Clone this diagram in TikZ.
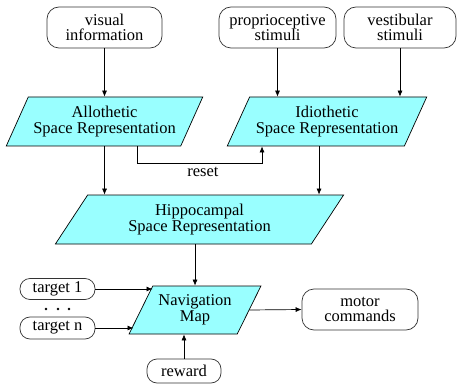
\documentclass[tikz,border=0pt]{standalone}
\usepackage{fontspec}
\setmainfont{Liberation Serif}
\usetikzlibrary{shapes.geometric,arrows.meta}
\definecolor{cyanfill}{HTML}{99FFFF}
\definecolor{edgegray}{HTML}{333333}
\begin{document}
\begin{tikzpicture}[x=1pt,y=-1pt,
  font=\fontsize{16.5}{15.5}\selectfont,
  rbox/.style={draw=edgegray,line width=0.7pt,rounded corners=12pt,align=center,inner sep=0pt},
  sbox/.style={draw=edgegray,line width=0.7pt,rounded corners=10pt,align=center,inner sep=0pt},
  para/.style={trapezium,trapezium left angle=56,trapezium right angle=124,trapezium stretches=true,
    draw=black,line width=0.7pt,fill=cyanfill,align=center,inner sep=0pt},
  arr/.style={draw=black,line width=0.7pt,-{Latex[length=6pt,width=5pt]}}]
\useasboundingbox (0,0) rectangle (458,385);
% source boxes
\node[rbox,minimum width=115pt,minimum height=41pt] (vis) at (104.5,27.5) {visual\\information};
\node[rbox,minimum width=117pt,minimum height=41pt] (prop) at (277.5,27.5) {proprioceptive\\stimuli};
\node[rbox,minimum width=112pt,minimum height=41pt] (vest) at (400,27.5) {vestibular\\stimuli};
% representations
\node[para,minimum width=197pt,minimum height=49pt] (allo) at (104.5,121.5) {Allothetic\\Space Representation};
\node[para,minimum width=200pt,minimum height=49pt] (idio) at (327,121.5) {Idiothetic\\Space Representation};
\node[para,minimum width=289pt,minimum height=49pt] (hippo) at (199.5,219.5) {Hippocampal\\Space Representation};
\node[para,trapezium left angle=55.5,trapezium right angle=124.5,minimum width=132pt,minimum height=48pt] (nav) at (195,310) {Navigation\\Map};
% small boxes
\node[sbox,minimum width=75pt,minimum height=21pt] (t1) at (57.5,289) {target 1};
\node[sbox,minimum width=75pt,minimum height=22pt] (tn) at (57.5,328) {target n};
\node[sbox,minimum width=74pt,minimum height=24pt] (rew) at (184,371) {reward};
\node[rbox,minimum width=116pt,minimum height=41pt] (mot) at (360,309.5) {motor\\commands};
\foreach \dx in {46,58,69} \fill (\dx,309) circle (1.3pt);
% connectors
\draw[arr] (vis.south) -- (vis.south |- allo.north);
\draw[arr] (prop.south) -- (prop.south |- idio.north);
\draw[arr] (vest.south) -- (vest.south |- idio.north);
\draw[arr] ([xshift=32.5pt]allo.south) -- ++(0,17) -| ([xshift=-65pt]idio.south);
\node at (203,172) {reset};
\draw[arr] (allo.south) -- (allo.south |- hippo.north);
\draw[arr] ([xshift=-8pt]idio.south) -- ([xshift=-8pt]idio.south |- hippo.north);
\draw[arr] (nav.north |- hippo.south) -- (nav.north);
\draw[arr] (t1.east) -- (t1.east -| nav.top left corner);
\draw[arr] (tn.east) -- ([xshift=5pt]nav.bottom left corner |- tn.east);
\draw[arr] (rew.north) -- (rew.north |- nav.south);
\draw[arr] (nav.east) -- (mot.west);
\end{tikzpicture}
\end{document}
